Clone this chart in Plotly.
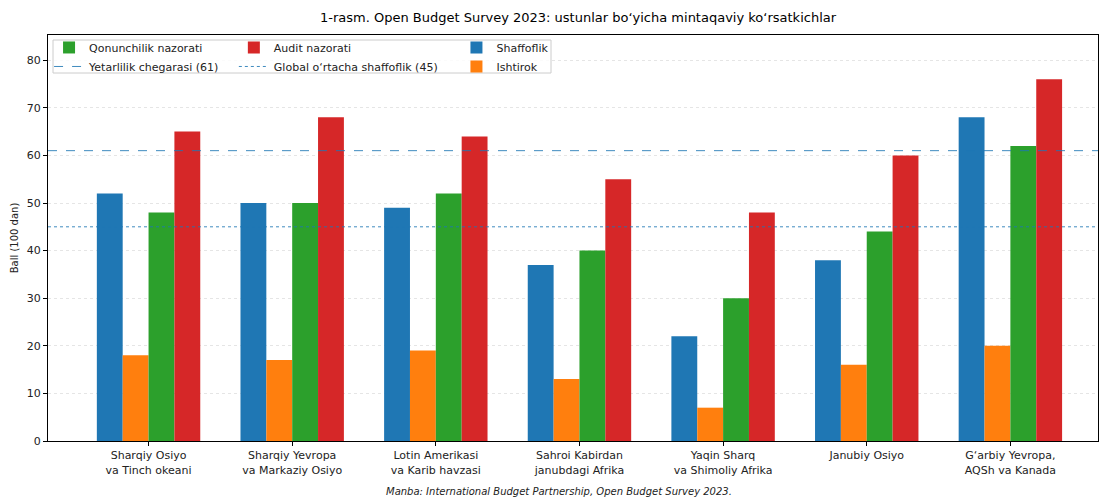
import plotly.graph_objects as go

regions = ["Sharqiy Osiyo<br>va Tinch okeani", "Sharqiy Yevropa<br>va Markaziy Osiyo",
           "Lotin Amerikasi<br>va Karib havzasi", "Sahroi Kabirdan<br>janubdagi Afrika",
           "Yaqin Sharq<br>va Shimoliy Afrika", "Janubiy Osiyo", "G‘arbiy Yevropa,<br>AQSh va Kanada"]
shaffoflik = [52, 50, 49, 37, 22, 38, 68]
ishtirok = [18, 17, 19, 13, 7, 16, 20]
qonunchilik = [48, 50, 52, 40, 30, 44, 62]
audit = [65, 68, 64, 55, 48, 60, 76]
threshold = 61
global_avg = 45

FONT = "DejaVu Sans"
x = list(range(len(regions)))
w = 0.18
series = [
    ("Shaffoflik", shaffoflik, "#1f77b4", -1.5, "legend3", 1),
    ("Ishtirok", ishtirok, "#ff7f0e", -0.5, "legend3", 2),
    ("Qonunchilik nazorati", qonunchilik, "#2ca02c", 0.5, "legend", 1),
    ("Audit nazorati", audit, "#d62728", 1.5, "legend2", 1),
]
fig = go.Figure()
for name, vals, col, off, lg, rank in series:
    fig.add_trace(go.Bar(x=[i + off * w for i in x], y=vals, width=w, name=name,
                         marker=dict(color=col, line=dict(width=0)), legend=lg, legendrank=rank))

fig.add_trace(go.Scatter(x=[0, 1], y=[threshold, threshold], xaxis="x2", mode="lines",
                         line=dict(color="rgba(31,119,180,0.85)", dash="dash", width=1),
                         name=f"Yetarlilik chegarasi ({threshold})", legend="legend", legendrank=2))
fig.add_trace(go.Scatter(x=[0, 1], y=[global_avg, global_avg], xaxis="x2", mode="lines",
                         line=dict(color="rgba(31,119,180,0.85)", dash="dot", width=1),
                         name=f"Global o‘rtacha shaffoflik ({global_avg})", legend="legend2", legendrank=2))

W, H = 1099, 497
L, R, T, B = 48, 1, 35, 56
PW, PH = W - L - R, H - T - B

lgcommon = dict(bgcolor="rgba(0,0,0,0)", font=dict(family=FONT, size=11, color="#222"),
                yanchor="top", y=1.005, xanchor="left", tracegroupgap=0, itemwidth=30)
fig.update_layout(
    width=W, height=H,
    margin=dict(l=L, r=R, t=T, b=B, autoexpand=False),
    paper_bgcolor="white", plot_bgcolor="white",
    barmode="overlay",
    title=dict(text="1-rasm. Open Budget Survey 2023: ustunlar bo‘yicha mintaqaviy ko‘rsatkichlar",
               x=578 / W, xanchor="center", yref="container", y=1 - 17 / H, yanchor="middle",
               font=dict(family=FONT, size=13, color="black")),
    font=dict(family=FONT, size=11, color="#222"),
    xaxis=dict(tickmode="array", tickvals=x, ticktext=regions, range=[-0.70, 6.61], automargin=False,
               showline=True, linecolor="black", linewidth=1, mirror=True,
               ticks="outside", ticklen=4, tickcolor="black", showgrid=False, zeroline=False,
               tickfont=dict(family=FONT, size=11, color="#222")),
    xaxis2=dict(overlaying="x", range=[0, 1], visible=False),
    yaxis=dict(range=[0, 85.3], dtick=10, showline=True, linecolor="black", linewidth=1, mirror=True,
               automargin=False,
               ticks="outside", ticklen=4, tickcolor="black", zeroline=False,
               showgrid=True, gridcolor="rgba(0,0,0,0.10)", griddash="dot", gridwidth=0.8,
               title=dict(text="Ball (100 dan)", font=dict(family=FONT, size=10, color="#222"), standoff=6),
               tickfont=dict(family=FONT, size=11, color="#222")),
    legend=dict(x=0.001, **lgcommon),
    legend2=dict(x=0.177, **lgcommon),
    legend3=dict(x=0.389, **lgcommon),
    shapes=[dict(type="rect", xref="paper", yref="paper", x0=5 / PW, x1=503 / PW,
                 y0=1 - 38 / PH, y1=1 - 5 / PH, fillcolor="rgba(255,255,255,0.85)",
                 line=dict(color="#cccccc", width=1), layer="above")],
    annotations=[dict(text="<i>Manba: International Budget Partnership, Open Budget Survey 2023.</i>",
                      xref="paper", yref="paper", x=(559 - 48) / PW, y=-50 / PH, xanchor="center",
                      yanchor="middle", showarrow=False, font=dict(family=FONT, size=10, color="#222"))],
)
fig.write_html("out.html", config={"displayModeBar": False},
               post_script="document.body.style.margin='0';document.body.style.overflow='hidden';")
